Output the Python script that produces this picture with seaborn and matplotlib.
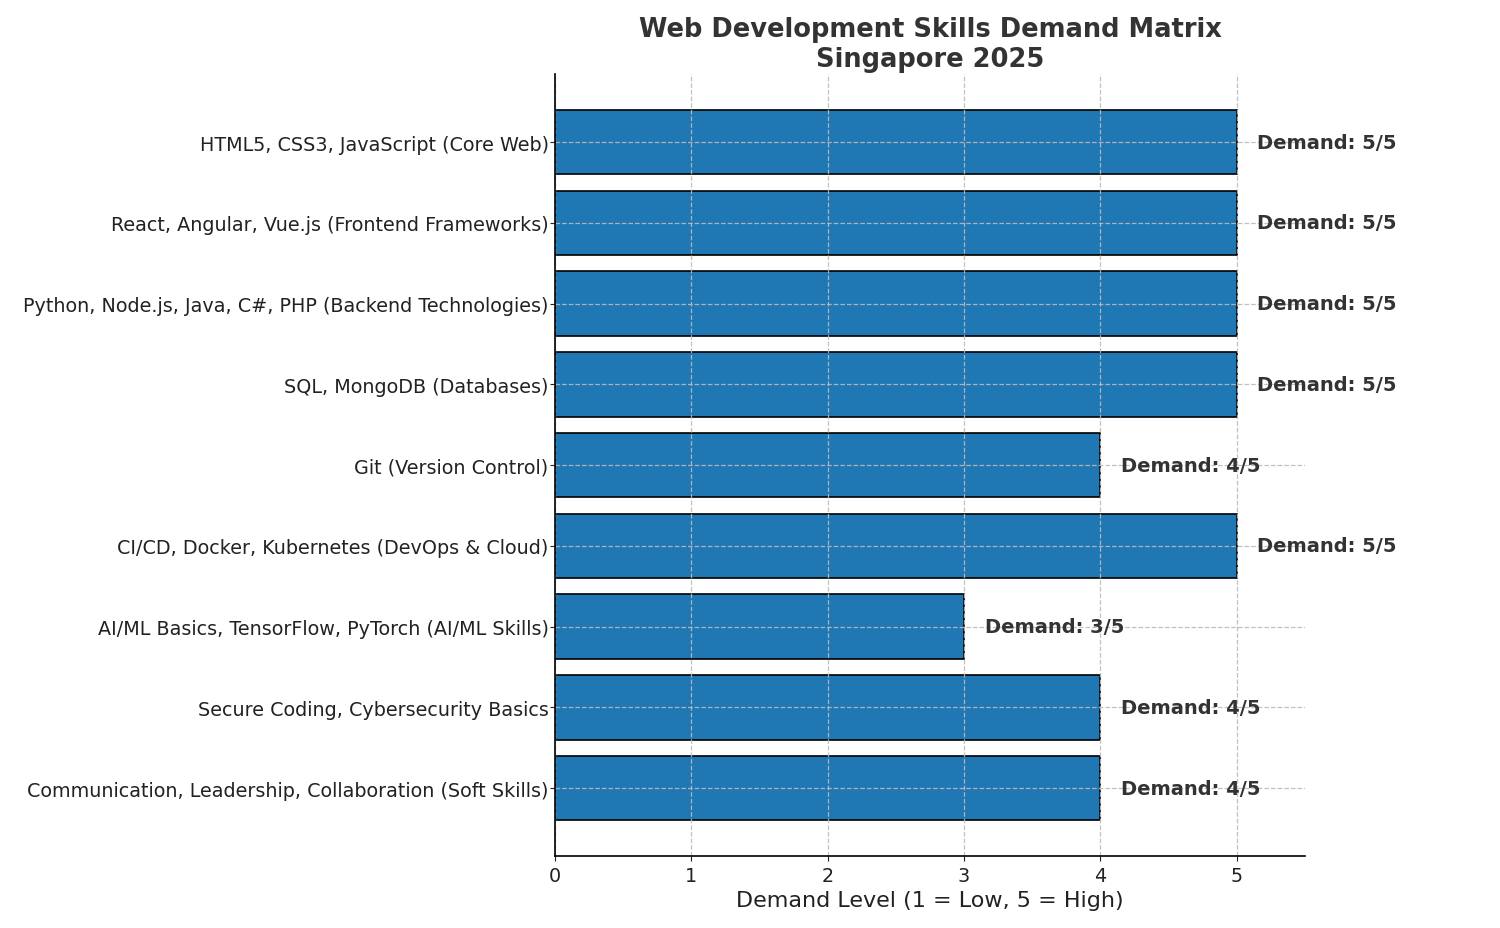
import matplotlib
matplotlib.use("Agg")
import matplotlib.pyplot as plt
import seaborn as sns
import pandas as pd

skills = [
    "HTML5, CSS3, JavaScript (Core Web)",
    "React, Angular, Vue.js (Frontend Frameworks)",
    "Python, Node.js, Java, C#, PHP (Backend Technologies)",
    "SQL, MongoDB (Databases)",
    "Git (Version Control)",
    "CI/CD, Docker, Kubernetes (DevOps & Cloud)",
    "AI/ML Basics, TensorFlow, PyTorch (AI/ML Skills)",
    "Secure Coding, Cybersecurity Basics",
    "Communication, Leadership, Collaboration (Soft Skills)",
]
demand = [5, 5, 5, 5, 4, 5, 3, 4, 4]

df = pd.DataFrame({"Skill": skills, "Demand": demand})

plt.rcParams['font.family'] = ['DejaVu Sans']
fig = plt.figure(figsize=(15, 9.29), dpi=100)
ax = fig.add_axes([0.37, 0.0775, 0.50, 0.8415])

sns.barplot(data=df, x="Demand", y="Skill", orient="h", color="#1f77b4",
            saturation=1, edgecolor="black", linewidth=1.2, width=0.8, ax=ax)

ax.set_xlim(0, 5.5)
ax.set_ylim(len(skills) - 1 + 0.84, -0.84)
ax.set_xticks([0, 1, 2, 3, 4, 5])
ax.tick_params(axis='both', labelsize=13.8, colors='#222222')
ax.tick_params(axis='y', pad=1)
ax.set_ylabel("")
ax.set_xlabel("Demand Level (1 = Low, 5 = High)", fontsize=16, color='#222222')
ax.set_title("Web Development Skills Demand Matrix\nSingapore 2025",
             fontsize=18.5, fontweight='bold', color='#333333', pad=6)

ax.set_axisbelow(False)
ax.grid(True, linestyle='--', color='#bbbbbb', linewidth=0.9, alpha=0.9)
for s in ['top', 'right']:
    ax.spines[s].set_visible(False)
for s in ['left', 'bottom']:
    ax.spines[s].set_linewidth(1.2)
    ax.spines[s].set_zorder(5)

for i, v in enumerate(demand):
    ax.text(v + 0.15, i, f"Demand: {v}/5", va='center', ha='left',
            fontsize=14, fontweight='bold', color='#333333')

fig.savefig("out.png", dpi=100)
